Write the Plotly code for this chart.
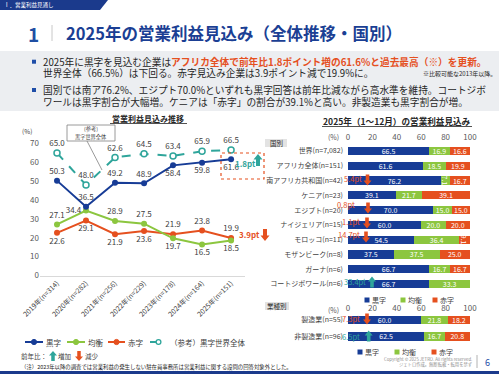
import plotly.graph_objects as go

W, H = 499, 374
FONT = "Noto Sans CJK JP, Noto Sans, sans-serif"

def px(x):
    return x / W

def py(y):
    return 1 - y / H

# ---------------- data ----------------
years = ["2019年(n=314)", "2020年(n=282)", "2021年(n=256)", "2022年(n=229)",
         "2023年(n=178)", "2024年(n=164)", "2025年(n=151)"]
kuroji = [50.3, 36.5, 49.2, 48.9, 58.4, 59.8, 61.6]
kinko = [27.1, 34.4, 28.9, 27.5, 19.7, 16.5, 18.5]
akaji = [22.6, 29.1, 21.9, 23.6, 21.9, 23.8, 19.9]
world_kuroji = [65.0, 48.0, 62.6, 64.5, 63.4, 65.9, 66.5]
line_ticks = [0, 10, 20, 30, 40, 50, 60, 70]

countries = ["世界(n=7,082)", "アフリカ全体(n=151)", "南アフリカ共和国(n=42)", "ケニア(n=23)",
             "エジプト(n=20)", "ナイジェリア(n=15)", "モロッコ(n=11)", "モザンビーク(n=8)",
             "ガーナ(n=6)", "コートジボワール(n=6)"]
c_kuroji = [66.5, 61.6, 76.2, 39.1, 70.0, 60.0, 54.5, 37.5, 66.7, 66.7]
c_kinko = [16.9, 18.5, 7.1, 21.7, 15.0, 20.0, 36.4, 37.5, 16.7, 33.3]
c_akaji = [16.6, 19.9, 16.7, 39.1, 15.0, 20.0, 9.1, 25.0, 16.7, 0.0]

industries = ["製造業(n=55)", "非製造業(n=96)"]
i_kuroji = [60.0, 62.5]
i_kinko = [21.8, 16.7]
i_akaji = [18.2, 20.8]
pct_ticks = [0, 20, 40, 60, 80, 100]

# ---------------- styles ----------------
NAVY = "#173c96"
GREEN = "#8cc63f"
RED = "#e5501f"
TEAL = "#2fa59b"
TXT = "#404040"

pos_kuroji = ["top center", "top center", "top center", "top center", "bottom center", "bottom center", "bottom center"]
pos_kinko = ["top center", "middle left", "top center", "top center", "bottom center", "bottom center", "bottom center"]
pos_akaji = ["bottom center", "bottom center", "bottom center", "bottom center", "top center", "top center", "top center"]
pos_world = ["top center"] * 7

fig = go.Figure()

def fmt(vals):
    return [f"{v:.1f}" for v in vals]

fig.add_trace(go.Scatter(x=years, y=world_kuroji, mode="lines+markers+text", text=fmt(world_kuroji),
                         textposition=pos_world, textfont=dict(size=8, color=TXT, family=FONT),
                         line=dict(color=TEAL, width=2, dash="dash"),
                         marker=dict(symbol="circle", size=6, color="white", line=dict(color=TEAL, width=1.5)),
                         cliponaxis=False, showlegend=False, hoverinfo="skip", xaxis="x", yaxis="y"))
fig.add_trace(go.Scatter(x=years, y=akaji, mode="lines+markers+text", text=fmt(akaji),
                         textposition=pos_akaji, textfont=dict(size=8, color=TXT, family=FONT),
                         line=dict(color=RED, width=2), marker=dict(size=6, color=RED),
                         cliponaxis=False, showlegend=False, hoverinfo="skip", xaxis="x", yaxis="y"))
fig.add_trace(go.Scatter(x=years, y=kinko, mode="lines+markers+text", text=fmt(kinko),
                         textposition=pos_kinko, textfont=dict(size=8, color=TXT, family=FONT),
                         line=dict(color=GREEN, width=2), marker=dict(size=6, color=GREEN),
                         cliponaxis=False, showlegend=False, hoverinfo="skip", xaxis="x", yaxis="y"))
fig.add_trace(go.Scatter(x=years, y=kuroji, mode="lines+markers+text", text=fmt(kuroji),
                         textposition=pos_kuroji, textfont=dict(size=8, color=TXT, family=FONT),
                         line=dict(color=NAVY, width=2), marker=dict(size=6, color=NAVY),
                         cliponaxis=False, showlegend=False, hoverinfo="skip", xaxis="x", yaxis="y"))

def btxt(vals):
    return [f"{v:.1f}" if v > 0 else "" for v in vals]

for vals, col in [(c_kuroji, NAVY), (c_kinko, GREEN), (c_akaji, RED)]:
    fig.add_trace(go.Bar(x=vals, y=countries, orientation="h", marker=dict(color=col, line=dict(width=0)),
                         text=btxt(vals), textposition="inside", insidetextanchor="middle",
                         textfont=dict(color="white", size=7, family=FONT), constraintext="none",
                         width=0.56, showlegend=False, hoverinfo="skip", xaxis="x2", yaxis="y2"))
for vals, col in [(i_kuroji, NAVY), (i_kinko, GREEN), (i_akaji, RED)]:
    fig.add_trace(go.Bar(x=vals, y=industries, orientation="h", marker=dict(color=col, line=dict(width=0)),
                         text=btxt(vals), textposition="inside", insidetextanchor="middle",
                         textfont=dict(color="white", size=7, family=FONT), constraintext="none",
                         width=0.5, showlegend=False, hoverinfo="skip", xaxis="x3", yaxis="y3"))

# ---------------- decorations ----------------
shapes = []
anns = []

def ann(x, y, text, size=8, color=TXT, xanchor="center", yanchor="middle"):
    anns.append(dict(xref="paper", yref="paper", x=px(x), y=py(y), text=text, showarrow=False,
                     font=dict(size=size, color=color, family=FONT), xanchor=xanchor, yanchor=yanchor,
                     borderpad=0))

def rect(x0, y0, x1, y1, fill, line=None, lw=0):
    shapes.append(dict(type="rect", xref="paper", yref="paper", x0=px(x0), x1=px(x1), y0=py(y1), y1=py(y0),
                       fillcolor=fill, line=dict(color=line or fill, width=lw), layer="below"))

def seg(x0, y0, x1, y1, color, width=1, dash="solid"):
    shapes.append(dict(type="line", xref="paper", yref="paper", x0=px(x0), x1=px(x1), y0=py(y0), y1=py(y1),
                       line=dict(color=color, width=width, dash=dash)))

def circ(cx, cy, r, fill, line, lw=1):
    shapes.append(dict(type="circle", xref="paper", yref="paper", x0=px(cx - r), x1=px(cx + r),
                       y0=py(cy + r), y1=py(cy - r), fillcolor=fill, line=dict(color=line, width=lw)))

def poly(pts, fill):
    path = "M " + " L ".join(f"{px(x):.5f},{py(y):.5f}" for x, y in pts) + " Z"
    shapes.append(dict(type="path", xref="paper", yref="paper", path=path, fillcolor=fill,
                       line=dict(color=fill, width=0)))

def arrow(cx, cy, up, color, w=8, h=11, sw=3.6, hh=5):
    if up:
        t = cy - h / 2
        b = cy + h / 2
        pts = [(cx, t), (cx + w / 2, t + hh), (cx + sw / 2, t + hh), (cx + sw / 2, b),
               (cx - sw / 2, b), (cx - sw / 2, t + hh), (cx - w / 2, t + hh)]
    else:
        t = cy + h / 2
        b = cy - h / 2
        pts = [(cx, t), (cx + w / 2, t - hh), (cx + sw / 2, t - hh), (cx + sw / 2, b),
               (cx - sw / 2, b), (cx - sw / 2, t - hh), (cx - w / 2, t - hh)]
    poly(pts, color)

# top banner
poly([(0, 0), (108, 0), (100, 10), (0, 10)], "#1b3a8c")
ann(3, 5, "Ⅰ．営業利益見通し", size=5.5, color="white", xanchor="left")

# title
ann(33.5, 33.5, "<b>1</b>", size=19, color="#1f4fa3")
seg(52, 25, 52, 41, "#c8c8c8", 1)
ann(65, 33, "<b>2025年の営業利益見込み（全体推移・国別）</b>", size=16.5, color="#1b3f94", xanchor="left")

# summary box
rect(0, 51, 499, 111, "#eceef1")
for by in [61.7, 90]:
    rect(32, by - 2, 36, by + 2, "#1f4ea8")
ann(41.5, 61.7, "2025年に黒字を見込む企業は<b><span style='color:#e5501f'>アフリカ全体で前年比1.8ポイント増の61.6%と過去最高（※）を更新。</span></b>",
    size=9.7, color="#262626", xanchor="left")
ann(41.5, 72.7, "世界全体（66.5%）は下回る。赤字見込み企業は3.9ポイント減で19.9%に。", size=9.7, color="#262626", xanchor="left")
ann(497, 73.5, "※比較可能な2013年以降。", size=6, color="#262626", xanchor="right")
ann(41.5, 90, "国別では南ア76.2%、エジプト70.0%といずれも黒字回答は前年比減ながら高水準を維持。コートジボ",
    size=9.7, color="#262626", xanchor="left")
ann(41.5, 101.7, "ワールは黒字割合が大幅増。ケニアは「赤字」の割合が39.1%と高い。非製造業も黒字割合が増。",
    size=9.7, color="#262626", xanchor="left")

# line chart title and unit
ann(148, 118.3, "<b>営業利益見込み推移</b>", size=8, color="#262626")
seg(110, 123.5, 187, 123.5, "#262626", 0.8)
ann(27, 131, "(%)", size=6.5, color=TXT)

# callout
rect(67, 125, 115, 141, "white", "#808080", 0.8)
shapes[-1]["layer"] = "above"
ann(91, 129.3, "(参考)", size=5.2, color=TXT)
ann(91, 136.6, "黒字世界全体", size=5.2, color=TXT)
seg(87, 141, 102, 170, "#808080", 0.8)

# change markers on line chart
shapes.append(dict(type="rect", xref="paper", yref="paper", x0=px(221), x1=px(264), y0=py(179), y1=py(153),
                   line=dict(color=RED, width=1.2, dash="dot"), fillcolor="rgba(0,0,0,0)"))
ann(245, 163, "<b>1.8pt</b>", size=8, color=TEAL, xanchor="center")
arrow(258, 160, True, TEAL, w=9, h=12, sw=4, hh=5.5)
ann(250, 235, "<b>3.9pt</b>", size=8, color=RED, xanchor="center")
arrow(265, 235, False, RED, w=9, h=12, sw=4, hh=5.5)

# line chart legend
for x0, x1, col, lab in [(25, 43, NAVY, "黒字"), (67, 85, GREEN, "均衡"), (108, 125, RED, "赤字")]:
    seg(x0, 342, x1, 342, col, 2)
    circ((x0 + x1) / 2, 342, 2.6, col, col)
    ann(x1 + 2, 342, lab, size=7.5, color=TXT, xanchor="left")
seg(150, 342, 167, 342, TEAL, 2, "dash")
circ(158.5, 342, 2.4, "white", TEAL, 1.3)
ann(169, 342, "（参考）黒字世界全体", size=7.5, color=TXT, xanchor="left")

ann(20, 356, "前年比：", size=6.5, color=TXT, xanchor="left")
arrow(53, 356, True, TEAL, w=8, h=10, sw=3.5, hh=4.5)
ann(57, 356, "増加", size=6.5, color=TXT, xanchor="left")
arrow(79, 356, False, RED, w=8, h=10, sw=3.5, hh=4.5)
ann(84, 356, "減少", size=6.5, color=TXT, xanchor="left")
ann(20, 366.5, "（注）2023年以降の調査では営業利益の発生しない駐在員事務所は営業利益に関する設問の回答対象外とした。",
    size=5.4, color="#262626", xanchor="left")

# bar chart title / boxes / units
ann(397, 121, "<b>2025年（1～12月）の営業利益見込み</b>", size=8.6, color="#262626")
seg(322, 126.5, 472, 126.5, "#262626", 0.8)
rect(265, 139, 287, 147, "#e3e3e3")
ann(276, 143, "国別", size=6.5, color="#262626")
rect(265, 302, 289, 310, "#e3e3e3")
ann(277, 306, "業種別", size=6.5, color="#262626")
ann(333, 136.5, "(%)", size=7, color="#595959")
ann(333, 309.5, "(%)", size=7, color="#595959")

# bar legends
for (sx, tx, col, lab) in [(367, 371, NAVY, "黒字"), (403, 407, GREEN, "均衡"), (435, 439, RED, "赤字")]:
    rect(sx - 2.5, 297.5, sx + 2.5, 302.5, col)
    ann(tx, 300, lab, size=7, color=TXT, xanchor="left")
for (sx, tx, col, lab) in [(360, 364, NAVY, "黒字"), (397, 401, GREEN, "均衡"), (434, 438, RED, "赤字")]:
    rect(sx - 2.5, 349.5, sx + 2.5, 354.5, col)
    ann(tx, 352, lab, size=7, color=TXT, xanchor="left")

# bar change markers
for (tx, ty, label, ax, ay, up) in [
    (363, 178.5, "5.4pt", 367.5, 180, False),
    (356, 204.5, "0.8pt", 368, 208, False),
    (361, 221.5, "1.1pt", 367, 223, False),
    (361, 235, "14.7pt", 366, 237, False),
    (367, 281.5, "33.4pt", 372, 282, True),
    (361, 318, "7.3pt", 367, 319, False),
    (361, 336.5, "6.5pt", 368.7, 336, True),
]:
    col = TEAL if up else RED
    arrow(ax, ay, up, col, w=8, h=11, sw=3.6, hh=5)
    ann(tx, ty, label, size=7.5, color=col, xanchor="right")

# footer
ann(473, 359, "Copyright © 2025 JETRO. All rights reserved.", size=4.3, color="#8c8c8c", xanchor="right")
ann(473, 364, "ジェトロ作成。無断転載・転用を禁ず", size=4.3, color="#8c8c8c", xanchor="right")
seg(477, 355, 477, 368, "#a0a0a0", 0.8)
ann(487, 362, "6", size=9, color="#1f4ea8")
rect(0, 371, 499, 374, "#1b3a8c")

# ---------------- layout ----------------
axfont = dict(size=8, color="#595959", family=FONT)
common = dict(automargin=False, showgrid=False, zeroline=False, ticks="", fixedrange=True)
fig.update_layout(
    width=W, height=H, margin=dict(l=0, r=0, t=0, b=0, autoexpand=False),
    paper_bgcolor="white", plot_bgcolor="rgba(0,0,0,0)",
    font=dict(family=FONT, color=TXT),
    barmode="stack", showlegend=False,
    uniformtext=dict(minsize=7, mode="show"),
    shapes=shapes, annotations=anns,
    xaxis=dict(domain=[px(40), px(245)], anchor="y", type="category", categoryorder="array",
               categoryarray=years, range=[-0.586, 6.48], tickangle=-45,
               tickfont=dict(size=7, color=TXT, family=FONT), showline=True, linecolor="#d9d9d9",
               linewidth=1, **common),
    yaxis=dict(domain=[py(275.5), py(139.7)], anchor="x", range=[0, 72], tickvals=line_ticks,
               tickfont=axfont, showline=False, **common),
    xaxis2=dict(domain=[px(348), px(470)], anchor="y2", range=[0, 100], side="top", tickvals=pct_ticks,
                tickfont=axfont, showline=False, **common),
    yaxis2=dict(domain=[py(291.4), py(142.1)], anchor="x2", type="category", categoryorder="array",
                categoryarray=countries, range=[9.5, -0.6], ticklabelstandoff=4,
                tickfont=dict(size=7, color=TXT, family=FONT), showline=False, **common),
    xaxis3=dict(domain=[px(348), px(470)], anchor="y3", range=[0, 100], side="top", tickvals=pct_ticks,
                tickfont=axfont, showline=False, **common),
    yaxis3=dict(domain=[py(342.4), py(314)], anchor="x3", type="category", categoryorder="array",
                categoryarray=industries, range=[1.36, -0.36], ticklabelstandoff=4,
                tickfont=dict(size=7, color=TXT, family=FONT), showline=False, **common),
)

fig.write_html("out.html", config={"displayModeBar": False},
               post_script="document.body.style.margin='0';document.body.style.padding='0';document.body.style.overflow='hidden';")
